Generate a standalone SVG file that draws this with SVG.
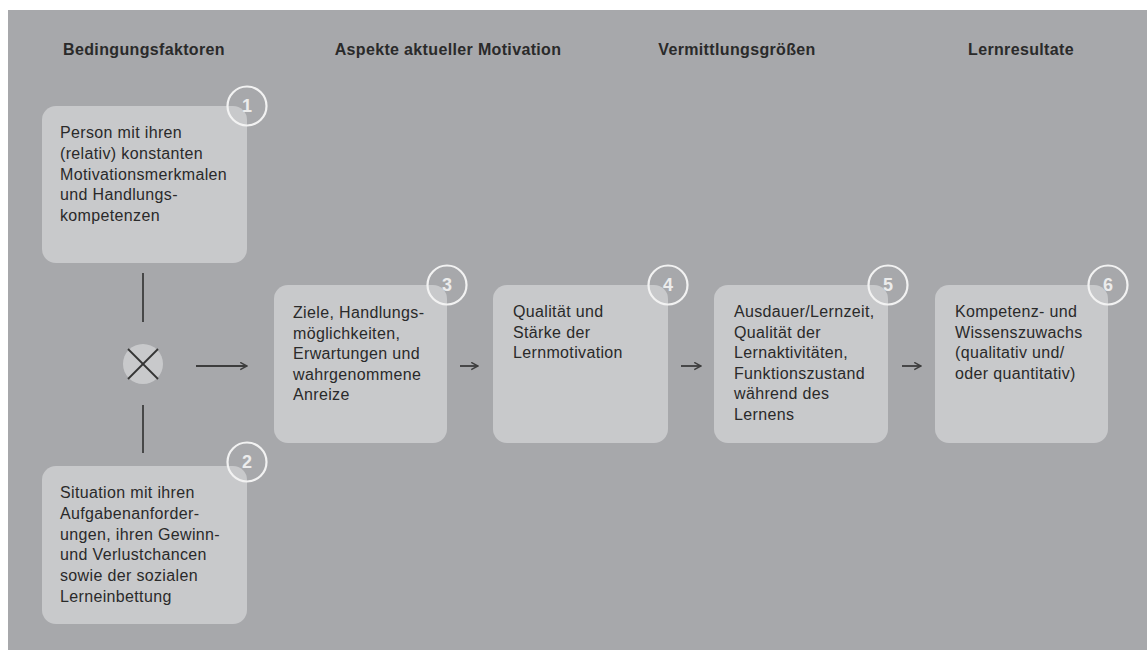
<svg xmlns="http://www.w3.org/2000/svg" width="1147" height="650" viewBox="0 0 1147 650">
<style>
.hdr{font-family:"Liberation Sans",Arial,sans-serif;font-size:16px;letter-spacing:0.35px;font-weight:bold;fill:#2a2a2a;text-anchor:middle}
.box{fill:#c8c9cb}
.txt{font-family:"Liberation Sans",Arial,sans-serif;font-size:16px;letter-spacing:0.35px;fill:#2a2a2a}
.badge{fill:none;stroke:#f2f2f2;stroke-width:2.2}
.num{font-family:"Liberation Sans",Arial,sans-serif;font-size:18px;font-weight:bold;fill:#ececec;text-anchor:middle}
.conn{stroke:#3d3d3d;stroke-width:1.8;fill:none}
</style>
<defs>
<marker id="ah" viewBox="0 0 10 10" refX="9" refY="5" markerWidth="9" markerHeight="9" markerUnits="userSpaceOnUse" orient="auto">
<path d="M1.5,1 L9,5 L1.5,9" fill="none" stroke="#3d3d3d" stroke-width="1.6"/>
</marker>
</defs>
<rect x="0" y="0" width="1147" height="650" fill="#ffffff"/>
<rect x="8" y="10" width="1139" height="640" fill="#a7a8ab"/>

<g id="headers">
<text class="hdr" x="144" y="55">Bedingungsfaktoren</text>
<text class="hdr" x="448" y="55">Aspekte aktueller Motivation</text>
<text class="hdr" x="737" y="55">Vermittlungsgrößen</text>
<text class="hdr" x="1021" y="55">Lernresultate</text>
</g>

<g id="connectors">
<line class="conn" x1="143" y1="273" x2="143" y2="322" stroke-width="2.4"/>
<line class="conn" x1="143" y1="405" x2="143" y2="453" stroke-width="2.4"/>
<line class="conn" x1="196" y1="366" x2="247" y2="366" marker-end="url(#ah)"/>
<line class="conn" x1="460" y1="366" x2="478" y2="366" marker-end="url(#ah)"/>
<line class="conn" x1="681" y1="366" x2="701" y2="366" marker-end="url(#ah)"/>
<line class="conn" x1="902" y1="366" x2="921" y2="366" marker-end="url(#ah)"/>
</g>

<g id="combine">
<circle cx="143" cy="364" r="20" fill="#c8c9cb"/>
<line x1="128" y1="349" x2="158" y2="379" stroke="#333" stroke-width="1.8"/>
<line x1="158" y1="349" x2="128" y2="379" stroke="#333" stroke-width="1.8"/>
</g>

<g id="node1">
<rect class="box" x="42" y="106" width="205" height="157" rx="14"/>
<text class="txt" x="60" y="138">Person mit ihren</text>
<text class="txt" x="60" y="159">(relativ) konstanten</text>
<text class="txt" x="60" y="180">Motivationsmerkmalen</text>
<text class="txt" x="60" y="200">und Handlungs-</text>
<text class="txt" x="60" y="221">kompetenzen</text>
<circle class="badge" cx="247" cy="106" r="19.5"/>
<text class="num" x="247" y="112">1</text>
</g>

<g id="node2">
<rect class="box" x="42" y="466" width="205" height="158" rx="14"/>
<text class="txt" x="60" y="498">Situation mit ihren</text>
<text class="txt" x="60" y="519">Aufgabenanforder-</text>
<text class="txt" x="60" y="540">ungen, ihren Gewinn-</text>
<text class="txt" x="60" y="560">und Verlustchancen</text>
<text class="txt" x="60" y="581">sowie der sozialen</text>
<text class="txt" x="60" y="602">Lerneinbettung</text>
<circle class="badge" cx="247" cy="462" r="19.5"/>
<text class="num" x="247" y="468">2</text>
</g>

<g id="node3">
<rect class="box" x="274" y="285" width="173" height="158" rx="14"/>
<text class="txt" x="293" y="318">Ziele, Handlungs-</text>
<text class="txt" x="293" y="339">möglichkeiten,</text>
<text class="txt" x="293" y="359">Erwartungen und</text>
<text class="txt" x="293" y="380">wahrgenommene</text>
<text class="txt" x="293" y="400">Anreize</text>
<circle class="badge" cx="447" cy="285" r="19.5"/>
<text class="num" x="447" y="291">3</text>
</g>

<g id="node4">
<rect class="box" x="493" y="285" width="175" height="158" rx="14"/>
<text class="txt" x="513" y="317">Qualität und</text>
<text class="txt" x="513" y="338">Stärke der</text>
<text class="txt" x="513" y="358">Lernmotivation</text>
<circle class="badge" cx="668" cy="285" r="19.5"/>
<text class="num" x="668" y="291">4</text>
</g>

<g id="node5">
<rect class="box" x="714" y="285" width="174" height="158" rx="14"/>
<text class="txt" x="734" y="317">Ausdauer/Lernzeit,</text>
<text class="txt" x="734" y="338">Qualität der</text>
<text class="txt" x="734" y="358">Lernaktivitäten,</text>
<text class="txt" x="734" y="379">Funktionszustand</text>
<text class="txt" x="734" y="399">während des</text>
<text class="txt" x="734" y="420">Lernens</text>
<circle class="badge" cx="888" cy="285" r="19.5"/>
<text class="num" x="888" y="291">5</text>
</g>

<g id="node6">
<rect class="box" x="935" y="285" width="173" height="158" rx="14"/>
<text class="txt" x="955" y="317">Kompetenz- und</text>
<text class="txt" x="955" y="338">Wissenszuwachs</text>
<text class="txt" x="955" y="358">(qualitativ und/</text>
<text class="txt" x="955" y="379">oder quantitativ)</text>
<circle class="badge" cx="1108" cy="285" r="19.5"/>
<text class="num" x="1108" y="291">6</text>
</g>
</svg>
